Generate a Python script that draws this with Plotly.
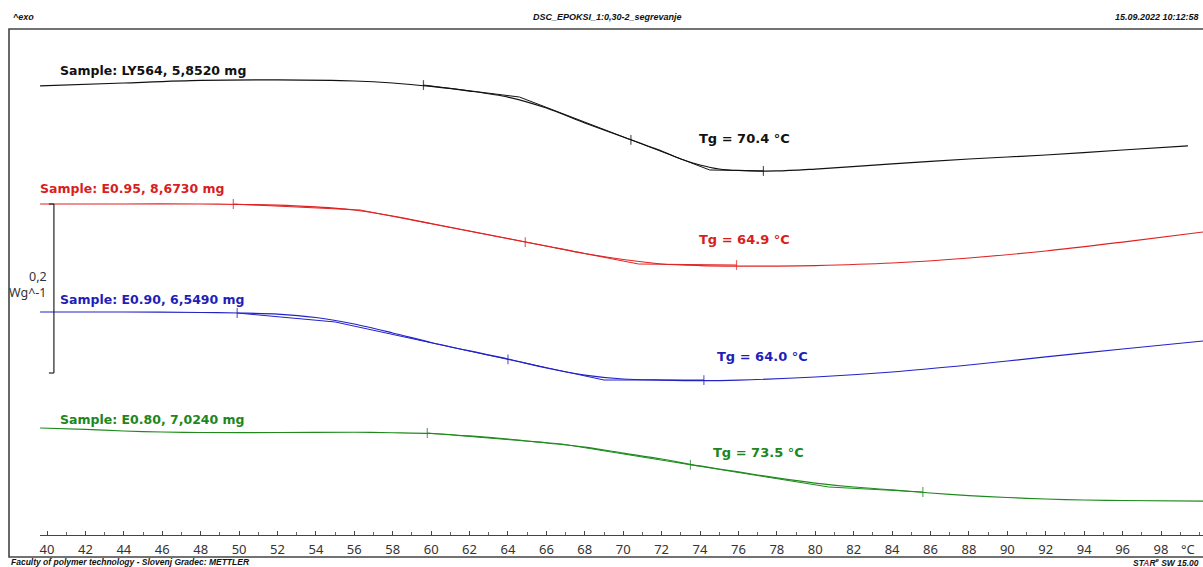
import plotly.graph_objects as go

# DSC heating curves (heat flow in W/g, curves shifted vertically for display)
temp_ly564 = [39.64, 44, 48, 52, 56, 58, 60, 62, 64, 66, 68, 70, 72, 73, 74, 75, 76, 78, 80, 84, 88, 92, 96, 99.4]
hf_ly564 = [0.5314, 0.5349, 0.5379, 0.5385, 0.5373, 0.5349, 0.5308, 0.5254, 0.5183, 0.5053, 0.4876, 0.4710,
            0.4544, 0.4450, 0.4379, 0.4331, 0.4314, 0.4308, 0.4331, 0.4391, 0.4450, 0.4497, 0.4556, 0.4604]

temp_e095 = [39.64, 44, 48, 50, 52, 54, 56, 58, 60, 62, 64, 66, 68, 70, 72, 74, 76, 78, 80, 84, 88, 92, 96, 100.19]
hf_e095 = [0.3917, 0.3917, 0.3917, 0.3911, 0.3905, 0.3882, 0.3846, 0.3775, 0.3686, 0.3598, 0.3509, 0.3420,
           0.3331, 0.3260, 0.3207, 0.3189, 0.3183, 0.3183, 0.3189, 0.3219, 0.3278, 0.3361, 0.3467, 0.3586]

temp_e090 = [39.64, 44, 48, 50, 52, 54, 56, 58, 60, 62, 64, 66, 68, 70, 72, 74, 76, 80, 84, 88, 92, 96, 100.19]
hf_e090 = [0.2639, 0.2639, 0.2633, 0.2627, 0.2615, 0.2574, 0.2497, 0.2391, 0.2278, 0.2178, 0.2083, 0.1976,
           0.1893, 0.1846, 0.1834, 0.1828, 0.1834, 0.1870, 0.1929, 0.2012, 0.2107, 0.2201, 0.2296]

temp_e080 = [39.64, 42, 44, 46, 48, 52, 56, 58, 60, 62, 64, 66, 68, 70, 72, 74, 76, 78, 80, 82, 84, 86, 88,
             90, 92, 94, 96, 100.19]
hf_e080 = [0.1266, 0.1249, 0.1231, 0.1219, 0.1213, 0.1213, 0.1216, 0.1210, 0.1201, 0.1172, 0.1136, 0.1089,
           0.1041, 0.0970, 0.0899, 0.0817, 0.0746, 0.0675, 0.0615, 0.0568, 0.0533, 0.0497, 0.0467, 0.0444,
           0.0426, 0.0414, 0.0408, 0.0402]

# Glass transition evaluation: onset, tangent kink, Tg (midpoint), tangent kink, endset
tg_temp_ly564 = [59.6, 64.6, 70.4, 74.5, 77.3]
tg_hf_ly564 = [0.5325, 0.5183, 0.4677, 0.4320, 0.4308]
tg_temp_e095 = [49.7, 56.3, 64.9, 70.8, 75.9]
tg_hf_e095 = [0.3917, 0.3846, 0.3467, 0.3207, 0.3195]
tg_temp_e090 = [49.9, 55.0, 64.0, 69.0, 74.2]
tg_hf_e090 = [0.2627, 0.2521, 0.2078, 0.1834, 0.1834]
tg_temp_e080 = [59.8, 66.8, 73.5, 80.7, 85.6]
tg_hf_e080 = [0.1207, 0.1077, 0.0831, 0.0568, 0.0509]

sample_names = ["Sample: LY564, 5,8520 mg", "Sample: E0.95, 8,6730 mg",
                "Sample: E0.90, 6,5490 mg", "Sample: E0.80, 7,0240 mg"]
tg_values = [70.4, 64.9, 64.0, 73.5]
colors = ["#111111", "#e02222", "#2222c8", "#1e8a1e"]
label_colors = ["#111111", "#d81e1e", "#1f1fb8", "#1d861d"]

x_ticks = list(range(40, 100, 2))

curves = [(temp_ly564, hf_ly564), (temp_e095, hf_e095), (temp_e090, hf_e090), (temp_e080, hf_e080)]
tangents = [(tg_temp_ly564, tg_hf_ly564), (tg_temp_e095, tg_hf_e095),
            (tg_temp_e090, tg_hf_e090), (tg_temp_e080, tg_hf_e080)]

W, H = 1203, 567
fig = go.Figure()

for (t, hf), (tt, th), c in zip(curves, tangents, colors):
    fig.add_trace(go.Scatter(x=t, y=hf, mode="lines",
                             line=dict(color=c, width=1.2, shape="spline", smoothing=0.8),
                             showlegend=False, hoverinfo="skip"))
    fig.add_trace(go.Scatter(x=tt, y=th, mode="lines+markers",
                             line=dict(color=c, width=1),
                             marker=dict(symbol="line-ns", size=[7, 0, 7, 0, 7],
                                         line=dict(color=c, width=1.2)),
                             showlegend=False, hoverinfo="skip"))

label_font = "DejaVu Sans"
tick_font = "Noto Sans"
# sample labels (paper positions)
sample_pos = [(58, 70), (38, 189), (58, 299), (58, 419)]
for name, (px, py), c in zip(sample_names, sample_pos, label_colors):
    fig.add_annotation(x=px / W, y=1 - py / H, xref="paper", yref="paper", text="<b>%s</b>" % name,
                       showarrow=False, xanchor="left", yanchor="middle",
                       font=dict(family=label_font, size=12.5, color=c))

tg_pos = [(744, 138), (744, 239), (762, 356), (758, 452)]
for tg, (px, py), c in zip(tg_values, tg_pos, label_colors):
    fig.add_annotation(x=px / W, y=1 - py / H, xref="paper", yref="paper",
                       text="<b>Tg = %.1f °C</b>" % tg,
                       showarrow=False, xanchor="center", yanchor="middle",
                       font=dict(family=label_font, size=13, color=c))

# ordinate scale bar: 0.2 W/g
bar_top = hf_e095[0]
bar_len = 0.2
x_bar = 40.36
x_bar_tick = 40.10
fig.add_shape(type="line", xref="x", yref="y", x0=x_bar, x1=x_bar, y0=bar_top, y1=bar_top - bar_len,
              line=dict(color="#222222", width=1.2))
for yy in (bar_top, bar_top - bar_len):
    fig.add_shape(type="line", xref="x", yref="y", x0=x_bar_tick, x1=x_bar, y0=yy, y1=yy,
                  line=dict(color="#222222", width=1.2))
fig.add_annotation(x=49 / W, y=1 - 277 / H, xref="paper", yref="paper", text="0,2",
                   showarrow=False, xanchor="right", yanchor="middle",
                   font=dict(family=tick_font, size=12.5, color="#333333"))
fig.add_annotation(x=49 / W, y=1 - 292 / H, xref="paper", yref="paper", text="Wg^-1",
                   showarrow=False, xanchor="right", yanchor="middle",
                   font=dict(family=tick_font, size=12.5, color="#333333"))

# frame
frame_col = "#444444"
fig.add_shape(type="rect", xref="paper", yref="paper", x0=9 / W, x1=1.02, y0=1 - 557 / H, y1=1 - 29 / H,
              line=dict(color=frame_col, width=1.6), fillcolor="rgba(0,0,0,0)")

# header / footer texts
hdr_font = dict(family="Liberation Sans", size=9, color="#111111")
ftr_font = dict(family="Liberation Sans", size=8.5, color="#111111")
fig.add_annotation(x=11 / W, y=1 - 17 / H, xref="paper", yref="paper", text="<b><i>^exo</i></b>",
                   showarrow=False, xanchor="left", yanchor="middle", font=hdr_font)
fig.add_annotation(x=607 / W, y=1 - 17 / H, xref="paper", yref="paper",
                   text="<b><i>DSC_EPOKSI_1:0,30-2_segrevanje</i></b>",
                   showarrow=False, xanchor="center", yanchor="middle", font=hdr_font)
fig.add_annotation(x=1201 / W, y=1 - 17 / H, xref="paper", yref="paper",
                   text="<b><i>15.09.2022 10:12:58</i></b>",
                   showarrow=False, xanchor="right", yanchor="middle", font=hdr_font)
fig.add_annotation(x=9 / W, y=1 - 562 / H, xref="paper", yref="paper",
                   text="<b><i>Faculty of polymer technology - Slovenj Gradec: METTLER</i></b>",
                   showarrow=False, xanchor="left", yanchor="middle", font=ftr_font)
fig.add_annotation(x=1201 / W, y=1 - 562 / H, xref="paper", yref="paper",
                   text="<b><i>ST<span style='color:#d81e1e'>A</span>R<sup>e</sup> SW 15.00</i></b>",
                   showarrow=False, xanchor="right", yanchor="middle", font=ftr_font)

fig.add_annotation(x=1188 / W, y=1 - 549 / H, xref="paper", yref="paper", text="°C",
                   showarrow=False, xanchor="center", yanchor="middle",
                   font=dict(family=tick_font, size=13, color="#333333"))

x_lo = 40 + (40 - 47) / 19.207
x_hi = 40 + (W - 47) / 19.207
y_bottom_px = 535
y_lo = 0.0
y_hi = (y_bottom_px - 0) / 845.0

fig.update_layout(
    width=W, height=H,
    margin=dict(l=0, r=0, t=0, b=0),
    paper_bgcolor="white", plot_bgcolor="white",
    xaxis=dict(domain=[40 / W, 1], range=[x_lo, x_hi], tickmode="array", tickvals=x_ticks,
               ticktext=[str(v) for v in x_ticks], showgrid=False, zeroline=False,
               showline=True, linecolor="#444444", linewidth=1,
               ticks="inside", ticklen=4, tickcolor="#444444", tickwidth=1,
               ticklabelstandoff=2,
               minor=dict(tickmode="linear", tick0=0, dtick=1, ticks="inside", ticklen=3,
                          tickcolor="#666666"),
               tickfont=dict(family=tick_font, size=13, color="#333333")),
    yaxis=dict(domain=[1 - y_bottom_px / H, 1], range=[y_lo, y_hi], visible=False),
)

fig.write_html("out.html")
